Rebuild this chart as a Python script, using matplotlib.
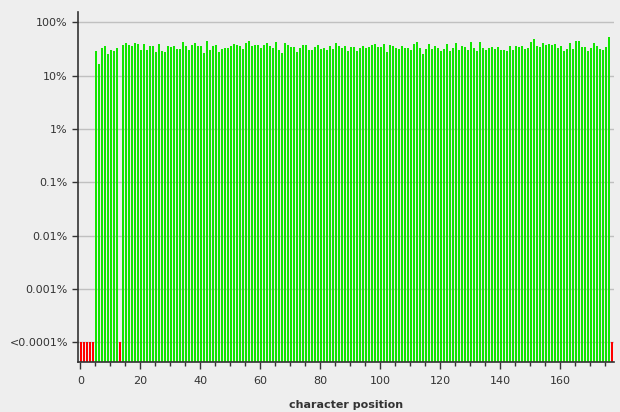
import matplotlib
matplotlib.use("Agg")
import matplotlib.pyplot as plt
from matplotlib.ticker import FixedLocator, MultipleLocator

# ========== DATA ========== #
# percentage of sequences per character position; 0 means "<0.0001%"
positions = list(range(178))
percent = [
    0, 0, 0, 0, 0, 28.8, 16.4, 32.8, 35.8, 25.3,
    30.1, 28.8, 32.8, 0, 37.4, 40.7, 37.4, 35.8, 40.7, 39.0,
    30.1, 39.0, 30.1, 35.8, 35.8, 27.6, 39.0, 28.8, 27.6, 35.8,
    34.2, 35.8, 31.4, 31.4, 42.5, 35.8, 30.1, 37.4, 40.7, 35.8,
    35.8, 26.4, 44.4, 30.1, 35.8, 37.4, 27.6, 31.4, 32.8, 32.8,
    35.8, 39.0, 37.4, 35.8, 31.4, 40.7, 44.4, 35.8, 37.4, 37.4,
    32.8, 37.4, 40.7, 35.8, 32.8, 42.5, 30.1, 26.4, 40.7, 37.4,
    34.2, 34.2, 27.6, 32.8, 37.4, 37.4, 30.1, 30.1, 34.2, 37.4,
    31.4, 32.8, 30.1, 35.8, 31.4, 40.7, 35.8, 32.8, 35.8, 28.8,
    34.2, 34.2, 28.8, 32.8, 35.8, 32.8, 34.2, 37.4, 39.0, 34.2,
    34.2, 39.0, 27.6, 37.4, 35.8, 32.8, 31.4, 35.8, 32.8, 32.8,
    30.1, 39.0, 42.5, 32.8, 25.3, 31.4, 39.0, 31.4, 35.8, 32.8,
    28.8, 31.4, 39.0, 28.8, 32.8, 40.7, 30.1, 35.8, 34.2, 30.1,
    42.5, 32.8, 28.8, 42.5, 32.8, 30.1, 32.8, 34.2, 31.4, 34.2,
    30.1, 30.1, 28.8, 35.8, 30.1, 35.8, 34.2, 35.8, 31.4, 32.8,
    42.5, 48.5, 35.8, 34.2, 40.7, 37.4, 39.0, 37.4, 39.0, 32.8,
    35.8, 28.8, 31.4, 40.7, 31.4, 44.4, 44.4, 34.2, 34.2, 28.8,
    32.8, 40.7, 35.8, 31.4, 30.1, 34.2, 52.9, 0,
]
y_ticks = [1e-4, 1e-3, 1e-2, 1e-1, 1, 10, 100]
y_labels = ["<0.0001%", "0.001%", "0.01%", "0.1%", "1%", "10%", "100%"]

# ========== STYLE ========== #
BG = "#eeeeee"
GREEN = "#12e600"
RED = "#ff0000"
FLOOR = 1e-4
YMIN, YMAX = 4.27e-5, 154

heights = [v if v > 0 else FLOOR for v in percent]
colors = [GREEN if v > 0 else RED for v in percent]

fig = plt.figure(figsize=(6.2, 4.12), dpi=100, facecolor=BG)
ax = fig.add_axes([0.1264, 0.1214, 0.8635, 0.8488], facecolor=BG)

ax.set_yscale("log")
ax.bar(positions, [h - YMIN for h in heights], bottom=YMIN, width=0.67,
       align="edge", color=colors, linewidth=0, antialiased=False, zorder=2)

ax.set_ylim(YMIN, YMAX)
ax.set_xlim(-0.65, 177.8)

ax.yaxis.set_major_locator(FixedLocator(y_ticks))
ax.yaxis.set_minor_locator(FixedLocator([]))
ax.set_yticklabels(y_labels)
ax.grid(axis="y", color="#c0c0c0", linewidth=1, zorder=1)

ax.xaxis.set_major_locator(MultipleLocator(20))
ax.xaxis.set_minor_locator(MultipleLocator(5))

for side in ["top", "right"]:
    ax.spines[side].set_visible(False)
for side in ["left", "bottom"]:
    ax.spines[side].set_color("#333333")
    ax.spines[side].set_linewidth(1.2)

ax.tick_params(axis="both", which="major", labelsize=8, colors="#333333",
               labelcolor="#333333", length=4, width=1)
ax.tick_params(axis="x", which="major", length=5, pad=5)
ax.tick_params(axis="x", which="minor", length=3, width=1, colors="#333333")

ax.set_xlabel("character position", fontsize=8, fontweight="bold",
              color="#333333", labelpad=10)

plt.savefig("out.png", dpi=100, facecolor=BG)
